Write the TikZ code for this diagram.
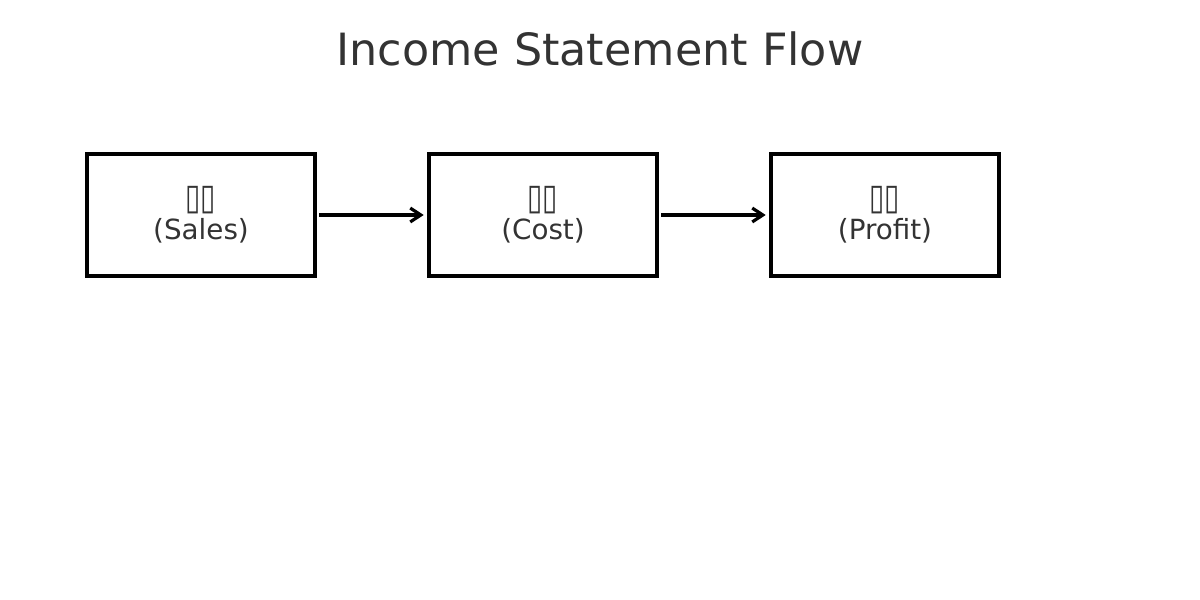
\documentclass[tikz,border=0pt]{standalone}
\usepackage{fontspec}
\setmainfont{DejaVu Sans}
\usetikzlibrary{positioning, arrows.meta}
\definecolor{inkgray}{HTML}{333333}
\newcommand{\tofu}{\raisebox{-1.3pt}{\scalebox{1}[1.3]{▯▯}}}

\begin{document}
\begin{tikzpicture}[x=0.36pt, y=-0.36pt,
    stage/.style={draw=black, line width=1.15pt, inner sep=0pt, outer sep=0pt,
        minimum width=82.08pt, minimum height=43.92pt,
        align=center, text=inkgray, font=\fontsize{10}{12.2}\selectfont},
    flow/.style={-{Straight Barb[length=3.8pt, width=5pt]}, line width=1.15pt,
        shorten <=1.6pt, shorten >=1.9pt}]
    \useasboundingbox (0, 0) rectangle (1200, 600);

    \node[anchor=base, text=inkgray, font=\fontsize{16}{19}\selectfont] (title) at (600, 66) {Income Statement Flow};

    \node[stage] (sales) at (201, 215) {\tofu\\(Sales)};
    \node[stage, right=41.04pt of sales] (cost) {\tofu\\(Cost)};
    \node[stage, right=41.04pt of cost] (profit) {\tofu\\(Profit)};

    \draw[flow] (sales) -- (cost);
    \draw[flow] (cost) -- (profit);

\end{tikzpicture}
\end{document}
